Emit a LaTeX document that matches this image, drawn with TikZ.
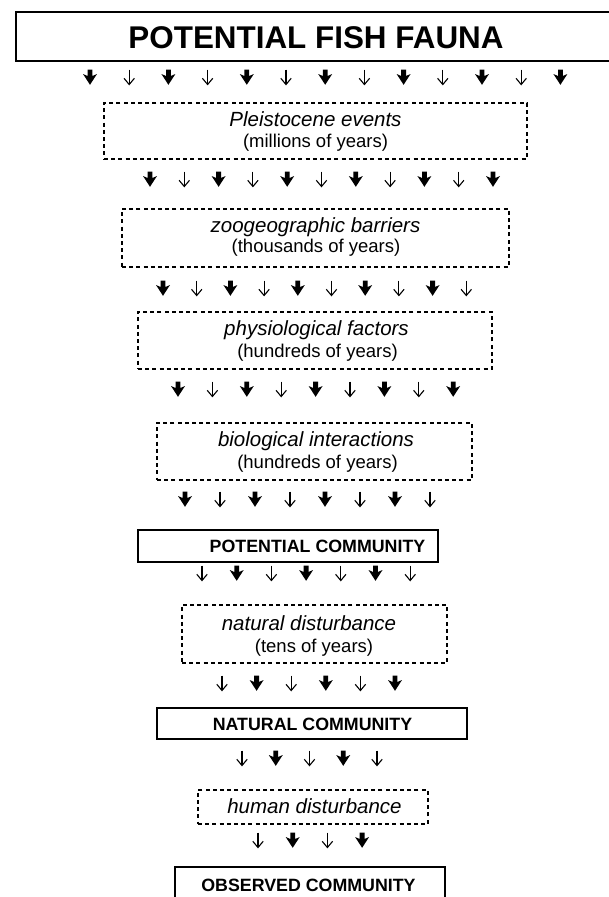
\documentclass[tikz,border=0pt]{standalone}
\usepackage{fontspec}
\setmainfont{Liberation Sans}
\begin{document}
\begin{tikzpicture}[x=1pt,y=-1pt,
  solidbox/.style={draw, line width=2pt, inner sep=0pt},
  dashbox/.style={draw, line width=1.6pt, dash pattern=on 4pt off 3.2pt, inner sep=0pt},
  ital/.style={anchor=base, inner sep=0pt, font=\fontsize{20.5}{24}\selectfont\itshape},
  paren/.style={anchor=base, inner sep=0pt, font=\fontsize{18.5}{22}\selectfont},
  bigtitle/.style={anchor=base, inner sep=0pt, font=\fontsize{31.4}{36}\selectfont\bfseries},
  smalltitle/.style={anchor=base, inner sep=0pt, font=\fontsize{17.8}{21}\selectfont\bfseries},
  thickarr/.pic={\fill (-2.4,-7.5) -- (2.4,-7.5) -- (2.4,-1) -- (7,-3) -- (0,7.8) -- (-7,-3) -- (-2.4,-1) -- cycle;},
  thinarr/.pic={\draw[line width=1.1pt] (0,-7.5) -- (0,7);
                \draw[line width=1.1pt, line join=miter] (-5.2,1.3) -- (0,7.5) -- (5.2,1.3);}
]
\useasboundingbox (0,0) rectangle (609,897);
\clip (0,0) rectangle (609,897);

% boxes
\node[solidbox, minimum width=640pt, minimum height=49pt] (fauna) at (336,36.5) {};
\node[dashbox, minimum width=423pt, minimum height=56pt] (pleist) at (315.5,131) {};
\node[dashbox, minimum width=387pt, minimum height=58pt] (zoo) at (315.5,238) {};
\node[dashbox, minimum width=354pt, minimum height=57pt] (phys) at (315,340.5) {};
\node[dashbox, minimum width=315pt, minimum height=57pt] (bio) at (314.5,451.5) {};
\node[solidbox, minimum width=300pt, minimum height=32pt] (potc) at (288,546) {};
\node[dashbox, minimum width=265pt, minimum height=58pt] (natd) at (314.5,634) {};
\node[solidbox, minimum width=310pt, minimum height=31pt] (natc) at (312,723.5) {};
\node[dashbox, minimum width=230pt, minimum height=34pt] (humd) at (313,807) {};
\node[solidbox, minimum width=270pt, minimum height=60pt] (obsc) at (310,897) {};

% texts
\node[bigtitle] (t0) at (316,48.2) {POTENTIAL FISH FAUNA};
\node[ital] (t1a) at (315.5,126.3) {Pleistocene events};
\node[paren] (t1b) at (315.5,147) {(millions of years)};
\node[ital] (t2a) at (315.5,232.3) {zoogeographic barriers};
\node[paren] (t2b) at (316,252) {(thousands of years)};
\node[ital] (t3a) at (316.5,335.3) {physiological factors};
\node[paren] (t3b) at (317.5,357) {(hundreds of years)};
\node[ital] (t4a) at (316,446.3) {biological interactions};
\node[paren] (t4b) at (317.5,468) {(hundreds of years)};
\node[smalltitle] (t5) at (317.5,552.4) {POTENTIAL COMMUNITY};
\node[ital] (t6a) at (309,630.3) {natural disturbance};
\node[paren] (t6b) at (314,652) {(tens of years)};
\node[smalltitle] (t7) at (312.5,730) {NATURAL COMMUNITY};
\node[ital] (t8) at (314.5,813.3) {human disturbance};
\node[smalltitle] (t9) at (308.5,891.4) {OBSERVED COMMUNITY};

% arrow rows
\foreach \k in {0,...,12}{\ifodd\k \pic at (90+39.2*\k,77) {thinarr}; \else \pic at (90+39.2*\k,77) {thickarr}; \fi}
\foreach \k in {0,...,10}{\ifodd\k \pic at (150+34.3*\k,179) {thinarr}; \else \pic at (150+34.3*\k,179) {thickarr}; \fi}
\foreach \k in {0,...,9}{\ifodd\k \pic at (163+33.7*\k,288) {thinarr}; \else \pic at (163+33.7*\k,288) {thickarr}; \fi}
\foreach \k in {0,...,8}{\ifodd\k \pic at (178+34.4*\k,389) {thinarr}; \else \pic at (178+34.4*\k,389) {thickarr}; \fi}
\foreach \k in {0,...,7}{\ifodd\k \pic at (185+35*\k,499) {thinarr}; \else \pic at (185+35*\k,499) {thickarr}; \fi}
\foreach \k in {0,...,6}{\ifodd\k \pic at (202+34.7*\k,573) {thickarr}; \else \pic at (202+34.7*\k,573) {thinarr}; \fi}
\foreach \k in {0,...,5}{\ifodd\k \pic at (222+34.6*\k,683) {thickarr}; \else \pic at (222+34.6*\k,683) {thinarr}; \fi}
\foreach \k in {0,...,4}{\ifodd\k \pic at (242+33.75*\k,758) {thickarr}; \else \pic at (242+33.75*\k,758) {thinarr}; \fi}
\foreach \k in {0,...,3}{\ifodd\k \pic at (258+34.7*\k,840) {thickarr}; \else \pic at (258+34.7*\k,840) {thinarr}; \fi}
\end{tikzpicture}
\end{document}
